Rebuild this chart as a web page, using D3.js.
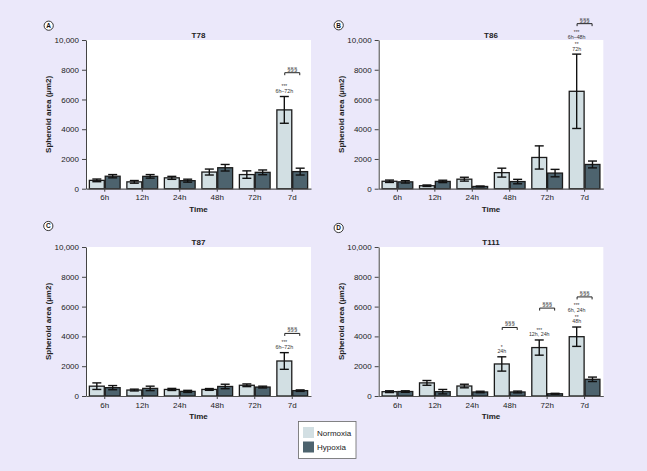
<!DOCTYPE html>
<html>
<head>
<meta charset="utf-8">
<script src="https://cdn.jsdelivr.net/npm/d3@7"></script>
<style>
  html, body { margin: 0; padding: 0; background: #ebe8fa; }
  svg { display: block; font-family: "Liberation Sans", Arial, sans-serif; }
</style>
</head>
<body>
<svg id="chart" width="647" height="471"></svg>
<script>
// ---------------- DATA ----------------
const times = ["6h", "12h", "24h", "48h", "72h", "7d"];
const conditions = ["Normoxia", "Hypoxia"];
const yTickValues = [0, 2000, 4000, 6000, 8000, 10000];
const yTickLabels = ["0", "2000", "4000", "6000", "8000", "10,000"];

const panelNames = ["T78", "T86", "T87", "T111"];
const panelLetters = ["A", "B", "C", "D"];

// mean values (µm2)
const t78Normoxia = [560, 460, 730, 1120, 950, 5300];
const t78Hypoxia  = [840, 830, 540, 1410, 1100, 1150];
const t86Normoxia = [500, 200, 640, 1080, 2100, 6550];
const t86Hypoxia  = [460, 490, 150, 480, 1050, 1630];
const t87Normoxia = [660, 400, 440, 440, 720, 2350];
const t87Hypoxia  = [560, 510, 310, 640, 600, 360];
const t111Normoxia = [290, 880, 670, 2150, 3250, 3980];
const t111Hypoxia  = [300, 290, 270, 270, 150, 1120];

// error (± µm2)
const t78NormoxiaErr = [90, 90, 100, 200, 250, 900];
const t78HypoxiaErr  = [110, 120, 100, 220, 160, 230];
const t86NormoxiaErr = [80, 50, 130, 300, 780, 2500];
const t86HypoxiaErr  = [80, 80, 30, 150, 250, 230];
const t87NormoxiaErr = [220, 60, 70, 60, 90, 560];
const t87HypoxiaErr  = [140, 150, 70, 150, 60, 50];
const t111NormoxiaErr = [60, 160, 120, 480, 510, 650];
const t111HypoxiaErr  = [50, 150, 50, 60, 30, 150];

// significance annotations (lines listed bottom-up), bracket level in µm2
const t78Annotations = [{ time: "7d", lines: ["6h\u201372h", "***"], bracket: 7800 }];
const t86Annotations = [{ time: "7d", lines: ["72h", "**", "6h\u201348h", "***"], bracket: 11100 }];
const t87Annotations = [{ time: "7d", lines: ["6h\u201372h", "***"], bracket: 4200 }];
const t111Annotations = [
  { time: "48h", lines: ["24h", "*"], bracket: 4600 },
  { time: "72h", lines: ["12h, 24h", "***"], bracket: 5900 },
  { time: "7d", lines: ["48h", "**", "6h, 24h", "***"], bracket: 6650 }
];
const bracketLabel = "\u00a7\u00a7\u00a7";

// ---------------- LAYOUT ----------------
const colors = { Normoxia: "#d2dfe3", Hypoxia: "#4d636e" };
const layout = [
  { x0: 86,    x1: 311,   yTop: 40,  yBot: 188.7, lx: 48.7,  ly: 25.7 },
  { x0: 378.7, x1: 603.3, yTop: 40,  yBot: 188.7, lx: 338.7, ly: 25.3 },
  { x0: 86,    x1: 311,   yTop: 247, yBot: 396,   lx: 48.3,  ly: 226 },
  { x0: 378.7, x1: 603.3, yTop: 247, yBot: 396,   lx: 338.7, ly: 228 }
];

const panels = [
  { n: t78Normoxia, h: t78Hypoxia, ne: t78NormoxiaErr, he: t78HypoxiaErr, ann: t78Annotations },
  { n: t86Normoxia, h: t86Hypoxia, ne: t86NormoxiaErr, he: t86HypoxiaErr, ann: t86Annotations },
  { n: t87Normoxia, h: t87Hypoxia, ne: t87NormoxiaErr, he: t87HypoxiaErr, ann: t87Annotations },
  { n: t111Normoxia, h: t111Hypoxia, ne: t111NormoxiaErr, he: t111HypoxiaErr, ann: t111Annotations }
];

const svg = d3.select("#chart");
svg.append("rect").attr("width", 647).attr("height", 471).attr("fill", "#ebe8fa");

panels.forEach((p, i) => {
  const L = layout[i];
  const g = svg.append("g");

  const x = d3.scaleBand().domain(times).range([L.x0, L.x1]).paddingInner(0.18).paddingOuter(0.09);
  const xi = d3.scaleBand().domain(conditions).range([0, x.bandwidth()]).paddingInner(0.06);
  const y = d3.scaleLinear().domain([0, 10000]).range([L.yBot, L.yTop]);

  // plot area
  g.append("rect").attr("x", L.x0).attr("y", L.yTop)
    .attr("width", L.x1 - L.x0).attr("height", L.yBot - L.yTop).attr("fill", "#ffffff");

  // bars
  const rows = times.map((t, k) => ({
    time: t,
    vals: [
      { c: "Normoxia", v: p.n[k], e: p.ne[k] },
      { c: "Hypoxia", v: p.h[k], e: p.he[k] }
    ]
  }));

  const grp = g.selectAll("g.grp").data(rows).enter().append("g")
    .attr("transform", d => `translate(${x(d.time)},0)`);

  grp.selectAll("rect").data(d => d.vals).enter().append("rect")
    .attr("x", d => xi(d.c))
    .attr("y", d => y(d.v))
    .attr("width", xi.bandwidth())
    .attr("height", d => y(0) - y(d.v))
    .attr("fill", d => colors[d.c])
    .attr("stroke", "#1b1b1b")
    .attr("stroke-width", 1.3);

  const cap = 4.5;
  const eb = grp.selectAll("g.eb").data(d => d.vals).enter().append("g")
    .attr("stroke", "#111").attr("stroke-width", 1.4);
  eb.append("line")
    .attr("x1", d => xi(d.c) + xi.bandwidth() / 2).attr("x2", d => xi(d.c) + xi.bandwidth() / 2)
    .attr("y1", d => y(d.v - d.e)).attr("y2", d => y(d.v + d.e));
  eb.append("line")
    .attr("x1", d => xi(d.c) + xi.bandwidth() / 2 - cap).attr("x2", d => xi(d.c) + xi.bandwidth() / 2 + cap)
    .attr("y1", d => y(d.v + d.e)).attr("y2", d => y(d.v + d.e));
  eb.append("line")
    .attr("x1", d => xi(d.c) + xi.bandwidth() / 2 - cap).attr("x2", d => xi(d.c) + xi.bandwidth() / 2 + cap)
    .attr("y1", d => y(d.v - d.e)).attr("y2", d => y(d.v - d.e));

  // axes
  const yAxis = d3.axisLeft(y).tickValues(yTickValues)
    .tickFormat((d, k) => yTickLabels[k]).tickSize(4).tickPadding(3).tickSizeOuter(0);
  const ya = g.append("g").attr("transform", `translate(${L.x0},0)`).call(yAxis);
  ya.select(".domain").attr("stroke", "#444").attr("stroke-width", 1);
  ya.selectAll(".tick line").attr("stroke", "#444");
  ya.selectAll("text").attr("font-size", 8).attr("fill", "#222");

  const xAxis = d3.axisBottom(x).tickSize(3).tickPadding(3).tickSizeOuter(0);
  const xa = g.append("g").attr("transform", `translate(0,${L.yBot})`).call(xAxis);
  xa.select(".domain").attr("stroke", "#555").attr("stroke-width", 1.2);
  xa.selectAll(".tick line").attr("stroke", "#444");
  xa.selectAll("text").attr("font-size", 8).attr("fill", "#222");

  // title & labels
  const cx = (L.x0 + L.x1) / 2;
  g.append("text").attr("x", cx).attr("y", L.yTop - 2).attr("text-anchor", "middle")
    .attr("font-size", 8).attr("font-weight", "bold").attr("fill", "#222").text(panelNames[i]);
  g.append("text").attr("x", cx).attr("y", L.yBot + 23).attr("text-anchor", "middle")
    .attr("font-size", 8).attr("font-weight", "bold").attr("fill", "#222").text("Time");
  g.append("text")
    .attr("transform", `translate(${L.x0 - 35},${(L.yTop + L.yBot) / 2}) rotate(-90)`)
    .attr("text-anchor", "middle").attr("font-size", 8).attr("font-weight", "bold").attr("fill", "#222")
    .text("Spheroid area (\u00b5m2)");

  // panel letter
  g.append("circle").attr("cx", L.lx).attr("cy", L.ly).attr("r", 4.6)
    .attr("fill", "#ffffff").attr("stroke", "#222").attr("stroke-width", 0.9);
  g.append("text").attr("x", L.lx).attr("y", L.ly + 2.4).attr("text-anchor", "middle")
    .attr("font-size", 6.5).attr("font-weight", "bold").attr("fill", "#111").text(panelLetters[i]);

  // annotations
  p.ann.forEach(a => {
    const k = times.indexOf(a.time);
    const gx = x(a.time);
    const nCenter = gx + xi("Normoxia") + xi.bandwidth() / 2;
    const errTop = y(p.n[k] + p.ne[k]);
    a.lines.forEach((ln, j) => {
      const center = errTop - 5.5 - j * 5.8;
      const isStar = /^\*+$/.test(ln);
      g.append("text").attr("x", nCenter).attr("y", center + (isStar ? 3.0 : 1.9))
        .attr("text-anchor", "middle").attr("font-size", isStar ? 4.8 : 5.3)
        .attr("fill", "#333").text(ln);
    });
    const bc = gx + x.bandwidth() / 2;
    const by = y(a.bracket);
    g.append("path")
      .attr("d", `M${bc - 7.5},${by + 2.5}V${by}H${bc + 7.5}V${by + 2.5}`)
      .attr("fill", "none").attr("stroke", "#222").attr("stroke-width", 1);
    g.append("text").attr("x", bc).attr("y", by - 2).attr("text-anchor", "middle")
      .attr("font-size", 6).attr("fill", "#333").text(bracketLabel);
  });
});

// legend
const lg = svg.append("g");
lg.append("rect").attr("x", 298.5).attr("y", 421.5).attr("width", 57.5).attr("height", 37)
  .attr("fill", "#ffffff").attr("stroke", "#666").attr("stroke-width", 0.8);
conditions.forEach((c, k) => {
  lg.append("rect").attr("x", 303).attr("y", 427 + k * 14.5).attr("width", 11).attr("height", 11)
    .attr("fill", colors[c]);
  lg.append("text").attr("x", 317).attr("y", 435.5 + k * 14.5).attr("font-size", 8)
    .attr("fill", "#222").text(c);
});
</script>
</body>
</html>
